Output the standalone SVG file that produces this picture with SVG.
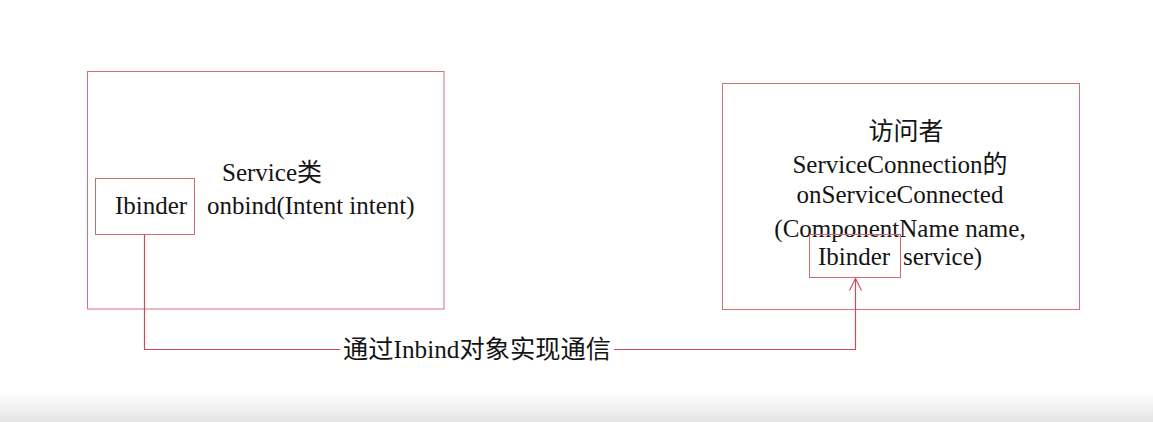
<svg xmlns="http://www.w3.org/2000/svg" width="1153" height="422" viewBox="0 0 1153 422">
  <defs>
    <linearGradient id="bottomFade" x1="0" y1="0" x2="0" y2="1">
      <stop offset="0" stop-color="#ffffff"/>
      <stop offset="1" stop-color="#e4e4e4"/>
    </linearGradient>
    <marker id="openArrow" markerWidth="16" markerHeight="16" refX="14" refY="8" orient="auto" markerUnits="userSpaceOnUse" viewBox="0 0 16 16">
      <path d="M2,2 L14,8 L2,14" fill="none" stroke="#c84a5c" stroke-width="1.1"/>
    </marker>
  </defs>
  <style>
    .box { fill: #ffffff; stroke: #d8707a; stroke-width: 1; }
    .inner { fill: none; stroke: #d06a70; stroke-width: 1; }
    .conn { fill: none; stroke: #c84a5c; stroke-width: 1.2; }
    .t { font-family: "Liberation Serif", "Noto Sans CJK SC", serif; font-size: 25px; fill: #141414; }
    .mid { text-anchor: middle; }
  </style>
  <rect x="0" y="0" width="1153" height="422" fill="#ffffff"/>
  <rect x="0" y="392" width="1153" height="30" fill="url(#bottomFade)"/>

  <g id="service-node">
    <rect class="box" x="87.5" y="71.5" width="356.5" height="237.5"/>
    <text class="t mid" x="272" y="181">Service类</text>
    <text class="t" x="207" y="214">onbind(Intent intent)</text>
  </g>
  <g id="service-ibinder">
    <rect class="inner" x="95.5" y="178.5" width="99" height="56"/>
    <text class="t" x="115" y="214">Ibinder</text>
  </g>

  <g id="visitor-node">
    <rect class="box" x="722.5" y="83.5" width="357" height="226"/>
    <text class="t mid" x="906" y="140">访问者</text>
    <text class="t mid" x="900" y="173">ServiceConnection的</text>
    <text class="t mid" x="900" y="203">onServiceConnected</text>
    <text class="t mid" x="900" y="237">(ComponentName name,</text>
    <text class="t" x="903" y="265">service)</text>
  </g>
  <g id="visitor-ibinder">
    <rect class="inner" x="809.5" y="234.5" width="91" height="43"/>
    <text class="t" x="818" y="265">Ibinder</text>
  </g>

  <g id="connectors">
    <path class="conn" d="M144.5,234.5 V349.5 H855.5 V278.5" marker-end="url(#openArrow)"/>
    <rect x="340" y="336" width="274" height="28" fill="#ffffff"/>
    <text class="t" x="343" y="358" textLength="268" lengthAdjust="spacingAndGlyphs">通过Inbind对象实现通信</text>
  </g>
</svg>
